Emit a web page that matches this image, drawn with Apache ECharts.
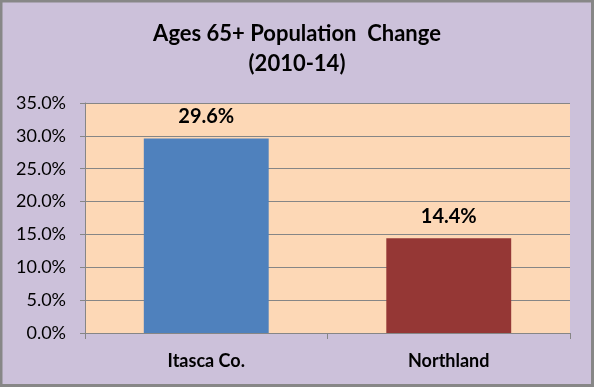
<!DOCTYPE html>
<html><head><meta charset="utf-8">
<script src="https://cdn.jsdelivr.net/npm/echarts@6/dist/echarts.min.js"></script>
<style>html,body{margin:0;padding:0;background:#fff}#c{width:594px;height:387px}</style>
</head><body><div id="c"></div>
<script>
const categories = ['Itasca Co.', 'Northland'];
const values = [29.6, 14.4];
const barColors = ['#4F81BD', '#953735'];
const titleLines = ['Ages 65+ Population  Change', '(2010-14)'];
const yMin = 0, yMax = 35, yStep = 5;

const chart = echarts.init(document.getElementById('c'), null, {renderer: 'canvas'});
const font = 'Lato, "Open Sans", sans-serif';
const titleStyle = {fontFamily: font, fontWeight: 'bold', fontSize: 22, fill: '#000', textAlign: 'center', textVerticalAlign: 'middle'};
chart.setOption({
  backgroundColor: '#CCC1DA',
  animation: false,
  graphic: [
    {type: 'rect', silent: true, shape: {x: 1, y: 1, width: 591.5, height: 384.5},
     style: {fill: 'none', stroke: '#878787', lineWidth: 3}},
    {type: 'text', silent: true, style: Object.assign({text: titleLines[0], x: 297, y: 34}, titleStyle)},
    {type: 'text', silent: true, style: Object.assign({text: titleLines[1], x: 297, y: 64}, titleStyle)}
  ],
  grid: {left: 85, top: 103, width: 485, height: 230, show: true, backgroundColor: '#FDD8B6', borderWidth: 0, containLabel: false},
  xAxis: {
    type: 'category', data: categories,
    axisLine: {lineStyle: {color: '#868686', width: 1}},
    axisTick: {show: true, length: 6, lineStyle: {color: '#868686'}},
    axisLabel: {fontFamily: font, fontWeight: 'bold', fontSize: 18, color: '#000', margin: 19}
  },
  yAxis: {
    type: 'value', min: yMin, max: yMax, interval: yStep,
    axisLine: {show: true, lineStyle: {color: '#868686', width: 1}},
    axisTick: {show: true, length: 5, lineStyle: {color: '#868686'}},
    splitLine: {lineStyle: {color: '#868686', width: 1}},
    axisLabel: {fontFamily: font, fontSize: 18, color: '#000', margin: 19, formatter: v => v.toFixed(1) + '%'}
  },
  series: [{
    type: 'bar', barWidth: '51.5%',
    data: values.map((v, i) => ({value: v, itemStyle: {color: barColors[i]}})),
    label: {show: true, position: 'top', distance: 12, fontFamily: font, fontWeight: 'bold', fontSize: 20, color: '#000', formatter: p => p.value.toFixed(1) + '%'}
  }]
});
</script></body></html>
